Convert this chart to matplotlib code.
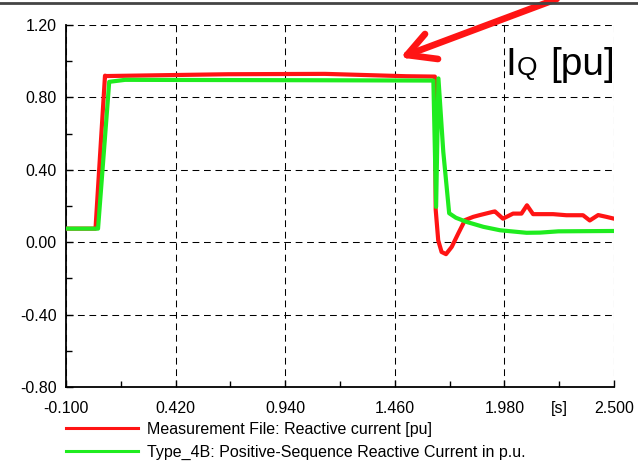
import matplotlib
matplotlib.use("Agg")
import matplotlib.pyplot as plt
from matplotlib.lines import Line2D
from matplotlib.ticker import FixedLocator, FixedFormatter, FormatStrFormatter

plt.rcParams["font.family"] = ["Liberation Sans", "DejaVu Sans"]

# Measurement file: reactive current [pu]
meas_t = [-0.100, 0.040, 0.085, 0.092, 0.668, 1.129, 1.513, 1.650,
          1.654, 1.666, 1.682, 1.703, 1.730, 1.761, 1.793, 1.832,
          1.864, 1.926, 1.935, 1.973, 2.021, 2.061, 2.087, 2.116,
          2.211, 2.274, 2.353, 2.385, 2.425, 2.464, 2.500]
meas_iq = [0.075, 0.075, 0.920, 0.918, 0.928, 0.930, 0.917, 0.915,
           0.180, 0.010, -0.054, -0.066, -0.026, 0.048, 0.122, 0.140,
           0.150, 0.168, 0.170, 0.130, 0.158, 0.158, 0.204, 0.155,
           0.155, 0.149, 0.149, 0.120, 0.150, 0.140, 0.130]

# Type_4B model: positive-sequence reactive current
sim_t = [-0.100, 0.052, 0.105, 0.180, 1.000, 1.643, 1.656, 1.667,
         1.690, 1.718, 1.750, 1.801, 1.880, 1.959, 2.085, 2.150,
         2.236, 2.500]
sim_iq = [0.075, 0.075, 0.886, 0.897, 0.895, 0.893, 0.195, 0.905,
          0.500, 0.160, 0.135, 0.112, 0.085, 0.066, 0.052, 0.053,
          0.060, 0.062]

x_major = [-0.100, 0.420, 0.940, 1.460, 1.980, 2.500]
x_minor = [0.160, 0.680, 1.200, 1.720, 2.240]
x_minor_labels = ["", "", "", "", "[s]"]
y_major = [-0.80, -0.40, 0.00, 0.40, 0.80, 1.20]
y_minor = [-0.60, -0.20, 0.20, 0.60, 1.00]

series_labels = [
    "Measurement File: Reactive current [pu]",
    "Type_4B: Positive-Sequence Reactive Current in p.u.",
]

RED = "#ff1414"
GREEN = "#1fec1f"
FS = 11.5

W, H = 638, 474


def fig_xy(px, py):
    """Pixel position (from top-left) to figure fraction."""
    return px / W, 1 - py / H


fig = plt.figure(figsize=(W / 100, H / 100), dpi=100)
ax = fig.add_axes([66 / W, 1 - 387 / H, 548 / W, 362 / H])

ax.plot(meas_t, meas_iq, color=RED, lw=3.0, solid_joinstyle="round", zorder=3)
ax.plot(sim_t, sim_iq, color=GREEN, lw=3.0, solid_joinstyle="round", zorder=4)

ax.set_xlim(-0.1, 2.5)
ax.set_ylim(-0.8, 1.2)
ax.xaxis.set_major_locator(FixedLocator(x_major))
ax.xaxis.set_minor_locator(FixedLocator(x_minor))
ax.xaxis.set_major_formatter(FormatStrFormatter("%.3f"))
ax.xaxis.set_minor_formatter(FixedFormatter(x_minor_labels))
ax.yaxis.set_major_locator(FixedLocator(y_major))
ax.yaxis.set_minor_locator(FixedLocator(y_minor))
ax.yaxis.set_major_formatter(FormatStrFormatter("%.2f"))

ax.tick_params(which="both", direction="in", top=False, right=False,
               labelsize=FS, colors="black", width=1.0)
ax.tick_params(which="major", length=5)
ax.tick_params(which="minor", length=4)
ax.tick_params(axis="x", which="both", pad=10)
ax.tick_params(axis="y", which="both", pad=6.5)

ax.grid(True, which="major", color="black", lw=0.75, ls=(0, (6.5, 4.5)))
for side in ("top", "right"):
    ax.spines[side].set_visible(False)
for side in ("left", "bottom"):
    ax.spines[side].set_linewidth(1.3)
    ax.spines[side].set_color("black")

# legend below the plot area
handles = [Line2D([], [], color=RED, lw=2.2), Line2D([], [], color=GREEN, lw=2.2)]
ax.legend(handles, series_labels, loc="upper left", bbox_to_anchor=(0.0, -0.096),
          frameon=False, fontsize=FS, borderpad=0, borderaxespad=0,
          handlelength=4.5, handletextpad=0.6, labelspacing=0.5)

# IQ [pu] caption
ax.text(*fig_xy(505, 75), "I", transform=fig.transFigure, fontsize=28, va="baseline")
ax.text(*fig_xy(517, 75), "Q", transform=fig.transFigure, fontsize=19, va="baseline")
ax.text(*fig_xy(550, 75), "[pu]", transform=fig.transFigure, fontsize=28, va="baseline")

# pointer arrow
tip = fig_xy(407, 55)
for end in [(562, -3), (425, 34), (438, 59)]:
    ex, ey = fig_xy(*end)
    fig.add_artist(Line2D([tip[0], ex], [tip[1], ey], transform=fig.transFigure,
                          color=RED, lw=4.8, solid_capstyle="round"))

# rule along the top edge
fig.add_artist(Line2D([0, 1], [1 - 2.5 / H, 1 - 2.5 / H], transform=fig.transFigure,
                      color="#444444", lw=2.0))

fig.savefig("out.png", dpi=100)
